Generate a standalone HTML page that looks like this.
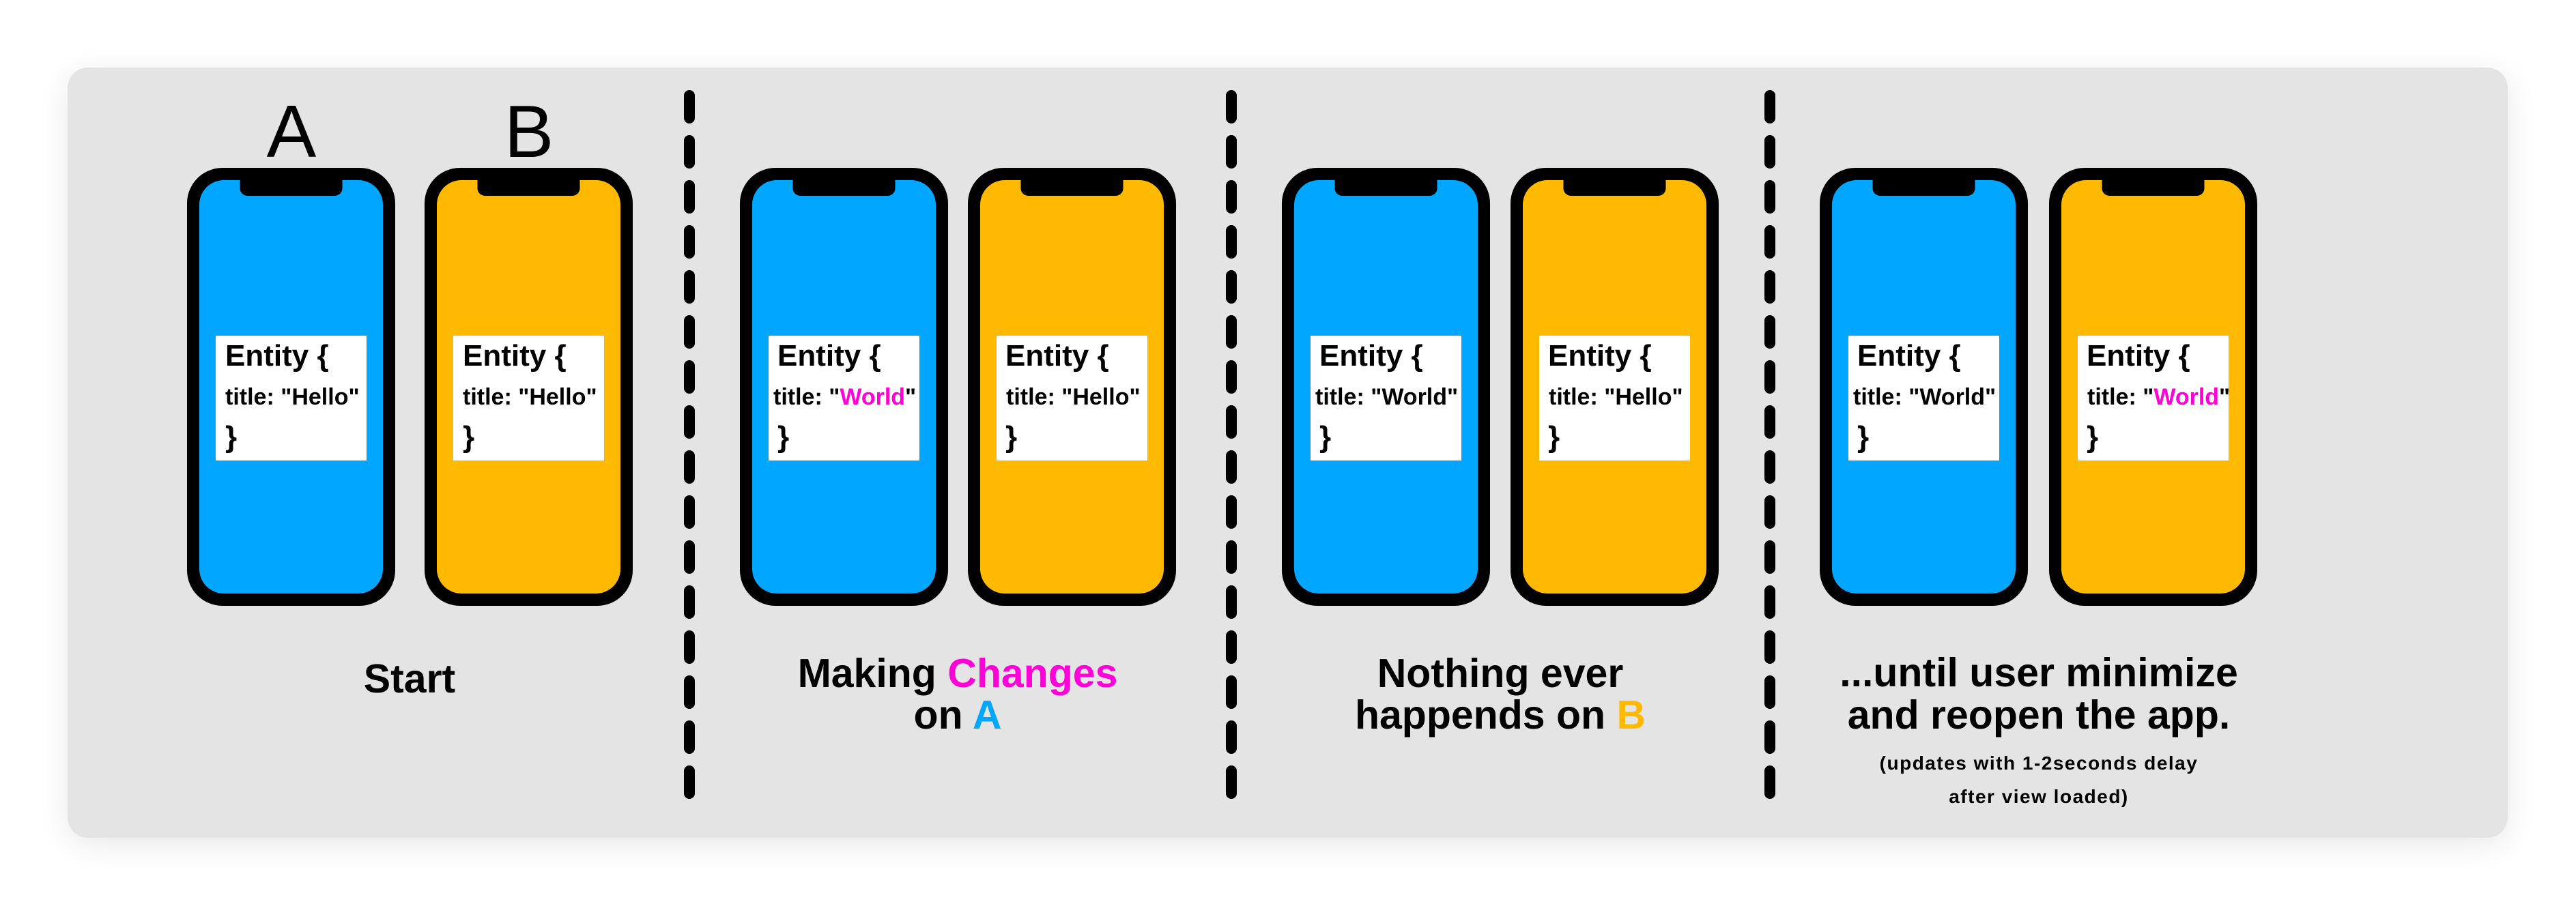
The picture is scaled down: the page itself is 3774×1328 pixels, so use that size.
<!DOCTYPE html>
<html>
<head>
<meta charset="utf-8">
<style>
  html, body { margin:0; padding:0; background:#ffffff; }
  body { width:3774px; height:1328px; position:relative; overflow:hidden; }
  .panel {
    position:absolute; left:99px; top:99px; width:3575px; height:1129px;
    background:#e4e4e4; border-radius:30px;
    box-shadow: 0 10px 45px rgba(0,0,0,0.09);
  }
  svg { position:absolute; left:0; top:0; }
  text { font-family: "Liberation Sans", Arial, sans-serif; }
</style>
</head>
<body>
<div class="panel"></div>
<svg width="3774" height="1328" viewBox="0 0 3774 1328" xmlns="http://www.w3.org/2000/svg">
  <defs>
    <g id="phoneBody">
      <rect x="0" y="0" width="305" height="642" rx="52" ry="52" fill="#000"/>
    </g>
  </defs>

  <!-- Labels A / B -->
  <text x="427" y="230" font-size="109" text-anchor="middle" fill="#000">A</text>
  <text x="775" y="230" font-size="109" text-anchor="middle" fill="#000">B</text>

  <!-- Dashed separators -->
  <g stroke="#000" stroke-width="16" stroke-linecap="round" stroke-dasharray="33 33" fill="none">
    <line x1="1010" y1="140" x2="1010" y2="1163"/>
    <line x1="1804" y1="140" x2="1804" y2="1163"/>
    <line x1="2593" y1="140" x2="2593" y2="1163"/>
  </g>

  <!-- ===== Group 1 ===== -->
  <!-- Phone A -->
  <g transform="translate(274,0)">
    <rect x="0" y="246" width="305" height="642" rx="52" fill="#000"/>
    <rect x="18" y="264" width="269" height="606" rx="36" fill="#00a6ff"/>
    <rect x="77.5" y="255" width="150" height="32" rx="11" fill="#000"/>
    <rect x="42" y="492" width="221" height="183" fill="#fff"/>
    <text x="56" y="536" font-size="44" font-weight="bold">Entity {</text>
    <text x="56" y="593" font-size="34" font-weight="bold">title: "Hello"</text>
    <text x="56" y="655" font-size="44" font-weight="bold">}</text>
  </g>
  <!-- Phone B -->
  <g transform="translate(622,0)">
    <rect x="0" y="246" width="305" height="642" rx="52" fill="#000"/>
    <rect x="18" y="264" width="269" height="606" rx="36" fill="#ffba00"/>
    <rect x="77.5" y="255" width="150" height="32" rx="11" fill="#000"/>
    <rect x="42" y="492" width="221" height="183" fill="#fff"/>
    <text x="56" y="536" font-size="44" font-weight="bold">Entity {</text>
    <text x="56" y="593" font-size="34" font-weight="bold">title: "Hello"</text>
    <text x="56" y="655" font-size="44" font-weight="bold">}</text>
  </g>

  <!-- ===== Group 2 ===== -->
  <g transform="translate(1084,0)">
    <rect x="0" y="246" width="305" height="642" rx="52" fill="#000"/>
    <rect x="18" y="264" width="269" height="606" rx="36" fill="#00a6ff"/>
    <rect x="77.5" y="255" width="150" height="32" rx="11" fill="#000"/>
    <rect x="42" y="492" width="221" height="183" fill="#fff"/>
    <text x="55" y="536" font-size="44" font-weight="bold">Entity {</text>
    <text x="49" y="593" font-size="34" font-weight="bold">title: "<tspan fill="#ff00d6">World</tspan>"</text>
    <text x="55" y="655" font-size="44" font-weight="bold">}</text>
  </g>
  <g transform="translate(1418,0)">
    <rect x="0" y="246" width="305" height="642" rx="52" fill="#000"/>
    <rect x="18" y="264" width="269" height="606" rx="36" fill="#ffba00"/>
    <rect x="77.5" y="255" width="150" height="32" rx="11" fill="#000"/>
    <rect x="42" y="492" width="221" height="183" fill="#fff"/>
    <text x="55" y="536" font-size="44" font-weight="bold">Entity {</text>
    <text x="56" y="593" font-size="34" font-weight="bold">title: "Hello"</text>
    <text x="55" y="655" font-size="44" font-weight="bold">}</text>
  </g>

  <!-- ===== Group 3 ===== -->
  <g transform="translate(1878,0)">
    <rect x="0" y="246" width="305" height="642" rx="52" fill="#000"/>
    <rect x="18" y="264" width="269" height="606" rx="36" fill="#00a6ff"/>
    <rect x="77.5" y="255" width="150" height="32" rx="11" fill="#000"/>
    <rect x="42" y="492" width="221" height="183" fill="#fff"/>
    <text x="55" y="536" font-size="44" font-weight="bold">Entity {</text>
    <text x="49" y="593" font-size="34" font-weight="bold">title: "World"</text>
    <text x="55" y="655" font-size="44" font-weight="bold">}</text>
  </g>
  <g transform="translate(2213,0)">
    <rect x="0" y="246" width="305" height="642" rx="52" fill="#000"/>
    <rect x="18" y="264" width="269" height="606" rx="36" fill="#ffba00"/>
    <rect x="77.5" y="255" width="150" height="32" rx="11" fill="#000"/>
    <rect x="42" y="492" width="221" height="183" fill="#fff"/>
    <text x="55" y="536" font-size="44" font-weight="bold">Entity {</text>
    <text x="56" y="593" font-size="34" font-weight="bold">title: "Hello"</text>
    <text x="55" y="655" font-size="44" font-weight="bold">}</text>
  </g>

  <!-- ===== Group 4 ===== -->
  <g transform="translate(2666,0)">
    <rect x="0" y="246" width="305" height="642" rx="52" fill="#000"/>
    <rect x="18" y="264" width="269" height="606" rx="36" fill="#00a6ff"/>
    <rect x="77.5" y="255" width="150" height="32" rx="11" fill="#000"/>
    <rect x="42" y="492" width="221" height="183" fill="#fff"/>
    <text x="55" y="536" font-size="44" font-weight="bold">Entity {</text>
    <text x="49" y="593" font-size="34" font-weight="bold">title: "World"</text>
    <text x="55" y="655" font-size="44" font-weight="bold">}</text>
  </g>
  <g transform="translate(3002,0)">
    <rect x="0" y="246" width="305" height="642" rx="52" fill="#000"/>
    <rect x="18" y="264" width="269" height="606" rx="36" fill="#ffba00"/>
    <rect x="77.5" y="255" width="150" height="32" rx="11" fill="#000"/>
    <rect x="42" y="492" width="221" height="183" fill="#fff"/>
    <text x="55" y="536" font-size="44" font-weight="bold">Entity {</text>
    <text x="56" y="593" font-size="34" font-weight="bold">title: "<tspan fill="#ff00d6">World</tspan>"</text>
    <text x="55" y="655" font-size="44" font-weight="bold">}</text>
  </g>

  <!-- Captions -->
  <g font-size="59" font-weight="bold" text-anchor="middle" fill="#000">
    <text x="600" y="1015">Start</text>

    <text x="1403" y="1007">Making <tspan fill="#ff00d6">Changes</tspan></text>
    <text x="1403" y="1068">on <tspan fill="#00a6ff">A</tspan></text>

    <text x="2198" y="1007">Nothing ever</text>
    <text x="2198" y="1068">happends on <tspan fill="#ffba00">B</tspan></text>

    <text x="2987" y="1006">...until user minimize</text>
    <text x="2987" y="1068">and reopen the app.</text>
  </g>
  <g font-size="28" font-weight="bold" text-anchor="middle" fill="#000" letter-spacing="1.5">
    <text x="2987" y="1128">(updates with 1-2seconds delay</text>
    <text x="2987" y="1177">after view loaded)</text>
  </g>
</svg>
</body>
</html>
